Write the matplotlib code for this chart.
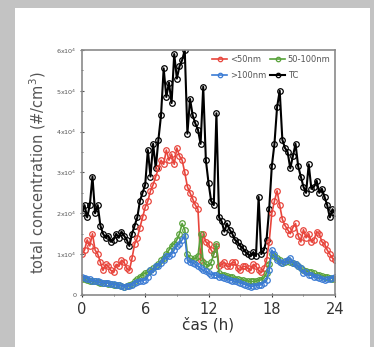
import numpy as np
import matplotlib
matplotlib.use("Agg")
import matplotlib.pyplot as plt
from matplotlib.patches import Rectangle

# concentrations in units of 1e4 #/cm3, one value every 15 min (0..24 h)
tc = [2.0, 2.2, 1.9, 2.2, 2.9, 2.0, 2.2, 1.7, 1.5, 1.4, 1.45, 1.3, 1.35, 1.5, 1.4, 1.55,
      1.45, 1.35, 1.2, 1.5, 1.7, 1.9, 2.3, 2.5, 2.7, 3.55, 2.9, 3.7, 3.1, 3.8, 4.4, 5.55,
      4.85, 5.2, 4.7, 5.9, 5.3, 5.6, 5.75, 6.0, 3.95, 4.8, 4.4, 4.2, 4.05, 3.7, 5.1, 3.3,
      2.75, 2.3, 2.2, 4.45, 1.9, 1.8, 1.55, 1.75, 1.6, 1.5, 1.35, 1.3, 1.2, 1.15, 1.05, 1.0,
      0.95, 1.05, 0.95, 2.4, 1.0, 1.1, 1.35, 2.1, 3.15, 3.7, 4.6, 5.0, 3.8, 3.6, 3.5, 3.1,
      3.4, 3.7, 3.15, 2.9, 2.65, 2.5, 3.2, 2.6, 2.65, 2.8, 2.5, 2.6, 2.4, 2.2, 1.9, 2.1, 2.0]
lt50 = [1.0, 1.1, 1.35, 1.2, 1.5, 1.1, 1.0, 0.8, 0.6, 0.75, 0.7, 0.6, 0.55, 0.75, 0.7, 0.85,
        0.8, 0.65, 0.6, 0.9, 1.25, 1.4, 1.65, 1.9, 2.15, 2.3, 2.55, 2.7, 2.9, 3.1, 3.3, 3.2,
        3.55, 3.3, 3.45, 3.2, 3.6, 3.4, 3.3, 3.0, 2.65, 2.5, 2.35, 2.2, 2.1, 0.85, 1.5, 1.3,
        1.25, 1.1, 1.0, 1.2, 0.7, 0.75, 0.8, 0.7, 0.7, 0.8, 0.8, 0.65, 0.6, 0.7, 0.7, 0.65,
        0.6, 0.75, 0.7, 0.6, 0.55, 0.65, 0.85, 1.3, 2.0, 2.3, 2.55, 2.2, 1.85, 1.7, 1.6, 1.5,
        1.65, 1.75, 1.45, 1.3, 1.6, 1.4, 1.5, 1.3, 1.35, 1.55, 1.5, 1.3, 1.25, 1.1, 1.0, 0.9, 0.85]
mid = [0.4, 0.38, 0.36, 0.35, 0.33, 0.33, 0.31, 0.3, 0.29, 0.29, 0.28, 0.27, 0.25, 0.25, 0.24, 0.22,
       0.2, 0.22, 0.24, 0.28, 0.33, 0.38, 0.45, 0.5, 0.53, 0.55, 0.6, 0.65, 0.7, 0.75, 0.85, 0.9,
       1.0, 1.1, 1.2, 1.25, 1.35, 1.5, 1.75, 1.6, 1.0, 0.9, 0.85, 0.9, 0.95, 1.5, 0.8, 0.75,
       0.7, 0.8, 1.0, 1.25, 0.53, 0.5, 0.48, 0.46, 0.45, 0.43, 0.4, 0.38, 0.37, 0.36, 0.35, 0.34,
       0.33, 0.33, 0.34, 0.36, 0.37, 0.42, 0.53, 0.75, 1.0, 0.95, 0.9, 0.85, 0.78, 0.8, 0.85, 0.8,
       0.78, 0.75, 0.7, 0.65, 0.6, 0.58, 0.56, 0.55, 0.53, 0.5, 0.48, 0.46, 0.45, 0.43, 0.42, 0.4, 0.4]
gt100 = [0.45, 0.42, 0.4, 0.38, 0.35, 0.34, 0.33, 0.31, 0.3, 0.3, 0.29, 0.27, 0.26, 0.25, 0.24, 0.22,
         0.2, 0.21, 0.22, 0.25, 0.3, 0.32, 0.34, 0.35, 0.37, 0.45, 0.6, 0.55, 0.7, 0.72, 0.78, 0.85,
         0.95, 0.95, 1.0, 1.1, 1.2, 1.25, 1.35, 1.45, 0.85, 0.8, 0.78, 0.75, 0.7, 0.65, 0.6, 0.58,
         0.53, 0.5, 0.5, 0.48, 0.45, 0.43, 0.41, 0.39, 0.37, 0.35, 0.33, 0.32, 0.3, 0.28, 0.25, 0.23,
         0.2, 0.22, 0.23, 0.24, 0.25, 0.3, 0.37, 0.6, 1.1, 1.0, 0.85, 0.8, 0.78, 0.82, 0.85, 0.9,
         0.78, 0.75, 0.7, 0.65, 0.53, 0.55, 0.5, 0.5, 0.45, 0.43, 0.42, 0.4, 0.37, 0.38, 0.4, 0.42, 0.45]
hours = np.linspace(0, 24, len(tc))

ytick_vals = [0, 1, 2, 3, 4, 5, 6]
ytick_labels = ["0"] + ["%dx10$^4$" % v for v in ytick_vals[1:]]
xtick_vals = [0, 6, 12, 18, 24]

fig = plt.figure(figsize=(3.74, 3.47), dpi=100)
fig.patch.set_facecolor("#c3c3c3")
fig.patches.append(Rectangle((15 / 374, 0), 355 / 374, 339 / 347, transform=fig.transFigure,
                             facecolor="white", edgecolor="none", zorder=-10))

ax = fig.add_axes([0.219, 0.150, 0.677, 0.706])
kw = dict(marker="o", markersize=4.0, markerfacecolor="none", markeredgewidth=0.9)
ax.plot(hours, tc, color="black", label="TC", linewidth=1.5, **kw)
ax.plot(hours, lt50, color="#e8453c", label="<50nm", linewidth=1.2, **kw)
ax.plot(hours, mid, color="#58a23a", label="50-100nm", linewidth=1.2, **kw)
ax.plot(hours, gt100, color="#3b7bd4", label=">100nm", linewidth=1.2, **kw)

ax.set_xlim(0, 24)
ax.set_ylim(0, 6)
ax.set_xticks(xtick_vals)
ax.set_xticks([3, 9, 15, 21], minor=True)
ax.set_yticks(ytick_vals)
ax.set_yticklabels(ytick_labels, fontsize=4.6, color="#555555")
ax.set_yticks([0.5, 1.5, 2.5, 3.5, 4.5, 5.5], minor=True)
ax.tick_params(axis="x", labelsize=10.5, colors="#333333", length=3, direction="inout")
ax.tick_params(axis="y", length=3, direction="inout", colors="#555555", pad=2)
ax.tick_params(which="minor", length=2, direction="inout", colors="#555555")
for s in ax.spines.values():
    s.set_color("#8a8a8a")
    s.set_linewidth(1.2)

ax.set_xlabel("čas (h)", fontsize=11, color="#333333", labelpad=0)
ax.set_ylabel("total concentration (#/cm$^3$)", fontsize=10.5, color="#555555", labelpad=6)

h, l = ax.get_legend_handles_labels()
order = [1, 3, 2, 0]
ax.legend([h[i] for i in order], [l[i] for i in order], ncol=2, loc="upper right",
          fontsize=6, frameon=False, handlelength=1.8, columnspacing=0.5,
          handletextpad=0.3, labelspacing=0.9, borderaxespad=0.15, labelcolor="#555555",
          markerscale=0.8)

fig.savefig("out.png", dpi=100, facecolor=fig.get_facecolor())
